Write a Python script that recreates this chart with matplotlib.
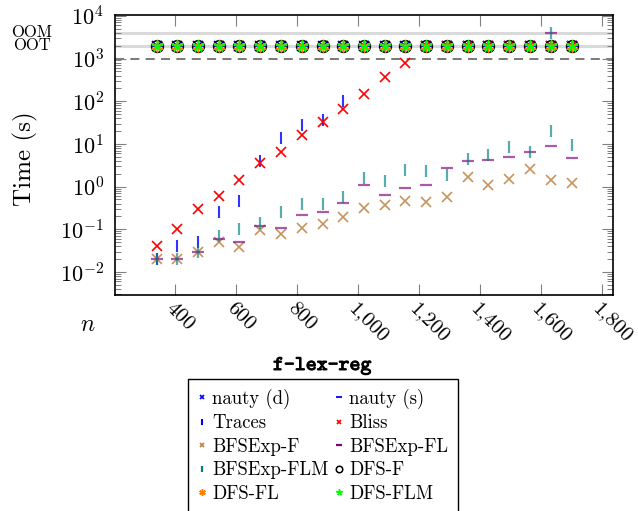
import numpy as np
import matplotlib
matplotlib.use("Agg")
import matplotlib.pyplot as plt
from matplotlib import ticker, transforms
import matplotlib.patheffects as pe

plt.rcParams.update({
    "font.family": "serif",
    "font.serif": ["cmr10"],
    "mathtext.fontset": "cm",
    "axes.formatter.use_mathtext": True,
    "axes.unicode_minus": False,
})

# Sentinel values used for runs that ran out of time / memory
OOT = 2000.0
OOM = 4000.0
TIMEOUT = 1000.0

n = [340, 408, 476, 544, 612, 680, 748, 816, 884, 952, 1020,
     1088, 1156, 1224, 1292, 1360, 1428, 1496, 1564, 1632, 1700]
n_oom = [1632]

nauty_d = [OOT] * 21
nauty_s = [OOT] * 21
traces = [0.02, 0.04, 0.049, 0.25, 0.45, 3.9, 13.5, 28, 37, 100,
          OOT, OOT, OOT, OOT, OOT, OOT, OOT, OOT, OOT, OOT, OOT]
bliss = [0.04, 0.1, 0.3, 0.6, 1.4, 3.5, 6.3, 16, 32, 65, 150, 365, 780,
         OOT, OOT, OOT, OOT, OOT, OOT, OOT, OOT]
bfsexp_f = [0.02, 0.02, 0.03, 0.05, 0.039, 0.096, 0.079, 0.11, 0.13, 0.19,
            0.31, 0.37, 0.46, 0.43, 0.58, 1.7, 1.1, 1.5, 2.55, 1.46, 1.2]
bfsexp_fl = [0.02, 0.02, 0.03, 0.06, 0.05, 0.12, 0.11, 0.22, 0.26, 0.42,
             1.1, 0.64, 0.93, 1.1, 2.7, 4.0, 4.1, 5.0, 6.3, 9.0, 4.8]
bfsexp_flm = [0.02, 0.02, 0.03, 0.07, 0.1, 0.14, 0.25, 0.39, 0.39, 0.56,
              1.57, 1.38, 2.4, 2.3, 1.9, 4.4, 5.4, 8.6, 6.5, 20, 9.2]
bfsexp_fl_oom = [OOM]
bfsexp_flm_oom = [OOM]
dfs_f = [OOT] * 21
dfs_fl = [OOT] * 21
dfs_flm = [OOT] * 21

x_ticks = [400, 600, 800, 1000, 1200, 1400, 1600, 1800]

fig = plt.figure(figsize=(6.38, 5.11), dpi=100)
ax = fig.add_axes([115 / 638, 1 - 295 / 511, 498 / 638, 280 / 511])
ax.set_yscale("log")
ax.set_xlim(204, 1836)
ax.set_ylim(10 ** -2.54, 10 ** 4.02)

# limit lines
ax.axhline(OOM, color="#dadada", lw=2.2, zorder=1)
ax.axhline(OOT, color="#dadada", lw=2.2, zorder=1)
ax.axhline(TIMEOUT, color="#6e6e6e", lw=1.3, dashes=(5, 3.5), zorder=1)

asterisk = (6, 2, 0)
star = (5, 2, 0)

series = [
    ("nauty (d)", n, nauty_d, "x", (0, 0, 1), 6.5, 1.2, 1.0),
    ("nauty (s)", n, nauty_s, "_", (0, 0, 1), 8, 1.3, 1.0),
    ("Traces", n, traces, "|", (0, 0, 1), 8, 1.5, 0.8),
    ("Bliss", n, bliss, "x", (1, 0, 0), 6.5, 1.2, 1.0),
    ("BFSExp-F", n, bfsexp_f, "x", (0.75, 0.5, 0.25), 6.5, 1.2, 0.85),
    ("BFSExp-FL", n + n_oom, bfsexp_fl + bfsexp_fl_oom, "_", (0.5, 0, 0.5), 8, 1.6, 0.65),
    ("BFSExp-FLM", n + n_oom, bfsexp_flm + bfsexp_flm_oom, "|", (0, 0.5, 0.5), 8, 1.6, 0.65),
    ("DFS-F", n, dfs_f, "o", "black", 8.5, 1.1, 1.0),
    ("DFS-FL", n, dfs_fl, asterisk, (1, 0.5, 0), 8.5, 1.1, 1.0),
    ("DFS-FLM", n, dfs_flm, star, (0, 1, 0), 8.5, 1.1, 1.0),
]

handles = []
for i, (label, xs, ys, mk, col, ms, mew, alpha) in enumerate(series):
    (h,) = ax.plot(xs, ys, linestyle="none", marker=mk, markersize=ms,
                   markeredgewidth=mew, color=col, alpha=alpha,
                   fillstyle="none", label=label, zorder=3 + i * 0.1)
    handles.append(h)

# axes styling
for s in ax.spines.values():
    s.set_linewidth(1.2)
ax.xaxis.set_major_locator(ticker.FixedLocator(x_ticks))
ax.xaxis.set_minor_locator(ticker.NullLocator())
ax.xaxis.set_major_formatter(ticker.FuncFormatter(lambda v, p: f"{int(v):,}"))
ax.yaxis.set_major_locator(ticker.LogLocator(base=10, numticks=15))
ax.yaxis.set_minor_locator(ticker.LogLocator(base=10, subs=np.arange(2, 10), numticks=15))
ax.yaxis.set_minor_formatter(ticker.NullFormatter())

ax.tick_params(which="both", direction="in", top=True, right=True, color="0.5")
ax.tick_params(which="major", length=7.7, width=0.8)
ax.tick_params(which="minor", length=4.5, width=0.7)
ax.tick_params(axis="y", which="major", labelsize=16, pad=8)
ax.tick_params(axis="x", which="major", labelsize=15, pad=3)
for lab in ax.get_xticklabels():
    lab.set_rotation(-45)
    lab.set_ha("left")
    lab.set_va("top")
    lab.set_rotation_mode("anchor")

# labels
fig.text(25 / 638, 1 - 159 / 511, "Time (s)", rotation=90, ha="center",
         va="center", fontsize=18)
fig.text(88 / 638, 1 - 325 / 511, r"$n$", ha="center", va="center", fontsize=17)
fig.text(322 / 638, 1 - 366 / 511, "f-lex-reg", family="cmtt10", ha="center",
         va="center", fontsize=15,
         path_effects=[pe.withStroke(linewidth=0.7, foreground="black")])

ytr = transforms.blended_transform_factory(fig.transFigure, ax.transData)
ax.text(32 / 638, OOM, "OOM", transform=ytr, ha="center", va="center",
        fontsize=12, clip_on=False)
ax.text(32 / 638, OOT, "OOT", transform=ytr, ha="center", va="center",
        fontsize=12, clip_on=False)

# legend laid out row by row in two columns
order = handles[0::2] + handles[1::2]
leg = fig.legend(handles=order, labels=[h.get_label() for h in order],
                 loc="upper center", bbox_to_anchor=(323 / 638, 1 - 379 / 511),
                 ncol=2, fontsize=13.5, frameon=True, fancybox=False,
                 edgecolor="black", framealpha=1, markerscale=0.55,
                 handlelength=0.5, handletextpad=0.3, columnspacing=0.3,
                 labelspacing=0.3, borderpad=0.5, borderaxespad=0)
leg.get_frame().set_linewidth(1.0)
for lh in leg.legend_handles:
    lh.set_alpha(1.0)

fig.savefig("out.png", dpi=100)
